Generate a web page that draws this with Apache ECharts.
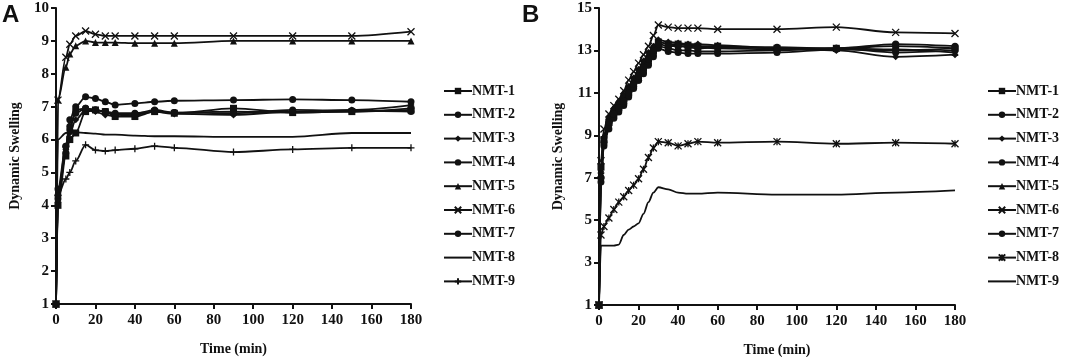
<!DOCTYPE html>
<html>
<head>
<meta charset="utf-8">
<script src="https://cdn.jsdelivr.net/npm/echarts@6/dist/echarts.min.js"></script>
<style>
  html, body { margin: 0; padding: 0; background: #fff; }
  #chart { width: 1065px; height: 357px; }
</style>
</head>
<body>
<div id="chart"></div>
<script>
// time points (min)
const timeA = [0, 1, 5, 7, 10, 15, 20, 25, 30, 40, 50, 60, 90, 120, 150, 180];
const timeB = [0, 1, 2.5, 5, 7.5, 10, 12.5, 15, 17.5, 20, 22.5, 25, 27.5, 30, 35, 40, 45, 50, 60, 90, 120, 150, 180];

const yTicksA = [1, 2, 3, 4, 5, 6, 7, 8, 9, 10];
const yTicksB = [1, 3, 5, 7, 9, 11, 13, 15];
const xTicks = [0, 20, 40, 60, 80, 100, 120, 140, 160, 180];

const names = ['NMT-1', 'NMT-2', 'NMT-3', 'NMT-4', 'NMT-5', 'NMT-6', 'NMT-7', 'NMT-8', 'NMT-9'];

// panel A
const a1 = [1, 4.0, 5.5, 6.0, 6.2, 6.85, 6.9, 6.85, 6.7, 6.7, 6.85, 6.8, 6.95, 6.82, 6.85, 6.9];
const a2 = [1, 4.2, 5.6, 6.3, 6.9, 6.95, 6.9, 6.85, 6.75, 6.78, 6.9, 6.82, 6.85, 6.82, 6.85, 6.95];
const a3 = [1, 4.1, 5.7, 6.2, 6.6, 6.9, 6.85, 6.75, 6.7, 6.75, 6.85, 6.78, 6.75, 6.85, 6.9, 7.05];
const a4 = [1, 4.3, 5.8, 6.4, 6.8, 6.95, 6.9, 6.85, 6.8, 6.8, 6.85, 6.82, 6.8, 6.9, 6.88, 6.85];
const a5 = [1, 7.2, 8.2, 8.6, 8.85, 9.0, 8.95, 8.95, 8.95, 8.93, 8.93, 8.93, 9.0, 9.0, 9.0, 9.0];
const a6 = [1, 7.2, 8.5, 8.9, 9.15, 9.3, 9.2, 9.15, 9.15, 9.15, 9.15, 9.15, 9.15, 9.15, 9.15, 9.28];
const a7 = [1, 4.5, 5.8, 6.6, 7.0, 7.3, 7.25, 7.15, 7.05, 7.1, 7.15, 7.18, 7.2, 7.22, 7.2, 7.15];
const a8 = [1, 6.0, 6.2, 6.25, 6.22, 6.2, 6.18, 6.15, 6.15, 6.12, 6.1, 6.1, 6.08, 6.08, 6.2, 6.2];
const a9 = [1, 4.3, 4.8, 5.0, 5.35, 5.84, 5.68, 5.65, 5.68, 5.72, 5.8, 5.75, 5.62, 5.7, 5.75, 5.75];

// panel B
const b1 = [1, 7.5, 8.8, 9.6, 10.0, 10.3, 10.6, 11.0, 11.4, 11.8, 12.2, 12.6, 13.0, 13.4, 13.3, 13.3, 13.25, 13.2, 13.2, 13.1, 13.1, 13.2, 13.1];
const b2 = [1, 7.0, 8.5, 9.3, 9.8, 10.1, 10.4, 10.8, 11.2, 11.6, 12.0, 12.4, 12.8, 13.2, 13.1, 13.0, 13.0, 12.95, 12.95, 13.0, 13.1, 12.9, 13.0];
const b3 = [1, 7.2, 8.9, 9.8, 10.2, 10.5, 10.9, 11.3, 11.7, 12.1, 12.5, 12.9, 13.2, 13.5, 13.4, 13.35, 13.3, 13.3, 13.25, 13.1, 13.0, 12.7, 12.8];
const b4 = [1, 6.8, 8.6, 9.5, 10.0, 10.2, 10.5, 10.9, 11.3, 11.6, 11.9, 12.3, 12.7, 13.1, 12.95, 12.9, 12.85, 12.85, 12.85, 12.9, 13.05, 13.0, 13.1];
const b5 = [1, 7.4, 9.0, 9.9, 10.3, 10.6, 10.9, 11.3, 11.7, 12.1, 12.5, 12.8, 13.1, 13.4, 13.3, 13.2, 13.2, 13.15, 13.1, 13.05, 13.1, 13.05, 12.9];
const b6 = [1, 7.8, 9.3, 10.0, 10.4, 10.7, 11.1, 11.6, 12.0, 12.4, 12.8, 13.2, 13.7, 14.2, 14.1, 14.05, 14.05, 14.05, 14.0, 14.0, 14.1, 13.85, 13.8];
const b7 = [1, 7.0, 8.7, 9.6, 10.0, 10.3, 10.6, 11.0, 11.4, 11.8, 12.2, 12.6, 13.0, 13.3, 13.2, 13.2, 13.15, 13.1, 13.15, 13.15, 13.1, 13.3, 13.2];
const b8 = [1, 4.3, 4.7, 5.1, 5.5, 5.85, 6.1, 6.4, 6.65, 6.95, 7.4, 7.95, 8.4, 8.7, 8.65, 8.5, 8.6, 8.7, 8.65, 8.7, 8.6, 8.65, 8.6];
const b9 = [1, 3.8, 3.8, 3.8, 3.8, 3.85, 4.3, 4.55, 4.7, 4.85, 5.3, 5.85, 6.3, 6.55, 6.45, 6.3, 6.25, 6.25, 6.3, 6.2, 6.2, 6.3, 6.4];

const INK = '#111';
const SERIF = '"Liberation Serif", "DejaVu Serif", serif';

const X_MARK = 'path://M0,0L10,10M10,0L0,10';
const PLUS_MARK = 'path://M5,0L5,10M0,5L10,5';
const STAR_MARK = 'path://M0,0L10,10M10,0L0,10M5,0L5,10';

const symbolsA = ['rect', 'circle', 'diamond', 'circle', 'triangle', X_MARK, 'circle', 'none', PLUS_MARK];
const symbolsB = ['rect', 'circle', 'diamond', 'circle', 'triangle', X_MARK, 'circle', STAR_MARK, 'none'];

const dataA = [a1, a2, a3, a4, a5, a6, a7, a8, a9];
const dataB = [b1, b2, b3, b4, b5, b6, b7, b8, b9];

const makeSeries = (prefix, idx, times, values, symbol) => {
  const isPath = symbol.startsWith('path://');
  return {
    name: prefix + names[idx],
    type: 'line',
    xAxisIndex: prefix === 'A ' ? 0 : 1,
    yAxisIndex: prefix === 'A ' ? 0 : 1,
    data: times.map((t, i) => [t, values[i]]),
    smooth: 0.3,
    smoothMonotone: 'x',
    symbol: symbol,
    showSymbol: symbol !== 'none',
    symbolSize: 7,
    lineStyle: { color: INK, width: 1.8 },
    itemStyle: {
      color: INK,
      borderColor: INK,
      borderWidth: isPath ? 1.3 : 0,
    },
    emphasis: { disabled: true },
    // circles drawn last so the shared start point reads as a dot
    z: symbol === 'circle' ? 4 : 3,
  };
};

const series = [];
dataA.forEach((vals, i) => series.push(makeSeries('A ', i, timeA, vals, symbolsA[i])));
dataB.forEach((vals, i) => series.push(makeSeries('B ', i, timeB, vals, symbolsB[i])));

const axisLabelStyle = {
  color: INK,
  fontFamily: SERIF,
  fontWeight: 'bold',
  fontSize: 15,
};

const makeXAxis = (gridIndex) => ({
  type: 'value',
  gridIndex,
  min: xTicks[0],
  max: xTicks[xTicks.length - 1],
  interval: 20,
  name: 'Time (min)',
  nameLocation: 'middle',
  nameGap: 38,
  nameTextStyle: { ...axisLabelStyle, fontSize: 14 },
  axisLine: { lineStyle: { color: INK, width: 2 } },
  axisTick: { show: true, length: 5, lineStyle: { color: INK, width: 2 } },
  axisLabel: { ...axisLabelStyle, margin: 9 },
  splitLine: { show: false },
});

const makeYAxis = (gridIndex, ticks, step, gap) => ({
  type: 'value',
  gridIndex,
  min: ticks[0],
  max: ticks[ticks.length - 1],
  interval: step,
  name: 'Dynamic Swelling',
  nameLocation: 'middle',
  nameGap: gap,
  nameRotate: 90,
  nameTextStyle: { ...axisLabelStyle, fontSize: 14 },
  axisLine: { lineStyle: { color: INK, width: 2 } },
  axisTick: { show: true, length: 5, lineStyle: { color: INK, width: 2 } },
  axisLabel: { ...axisLabelStyle, margin: 7 },
  splitLine: { show: false },
});

// plain-line series: hide the marker in the legend, keep the line
const makeLegend = (prefix, left, symbols) => ({
  orient: 'vertical',
  left: left,
  top: 84,
  padding: 0,
  itemWidth: 28,
  itemHeight: 8,
  itemGap: 9.8,
  selectedMode: false,
  data: names.map((n, i) =>
    symbols[i] === 'none'
      ? { name: prefix + n, itemStyle: { opacity: 0 } }
      : prefix + n
  ),
  formatter: (name) => name.slice(2),
  textStyle: {
    color: INK,
    fontFamily: SERIF,
    fontWeight: 'bold',
    fontSize: 14,
    padding: [0, 0, 0, -5],
  },
});

const option = {
  animation: false,
  backgroundColor: '#fff',
  grid: [
    { left: 56, top: 8, width: 355, height: 296, outerBoundsMode: 'none' },
    { left: 599, top: 8, width: 356, height: 297, outerBoundsMode: 'none' },
  ],
  xAxis: [makeXAxis(0), makeXAxis(1)],
  yAxis: [makeYAxis(0, yTicksA, 1, 34), makeYAxis(1, yTicksB, 2, 34)],
  legend: [makeLegend('A ', 443, symbolsA), makeLegend('B ', 987, symbolsB)],
  graphic: [
    { type: 'text', left: 2, top: 3, style: { text: 'A', font: 'bold 24px "Liberation Sans", Arial, sans-serif', fill: INK } },
    { type: 'text', left: 522, top: 3, style: { text: 'B', font: 'bold 24px "Liberation Sans", Arial, sans-serif', fill: INK } },
  ],
  series: series,
};

const chart = echarts.init(document.getElementById('chart'), null, { renderer: 'canvas' });
chart.setOption(option);
</script>
</body>
</html>
